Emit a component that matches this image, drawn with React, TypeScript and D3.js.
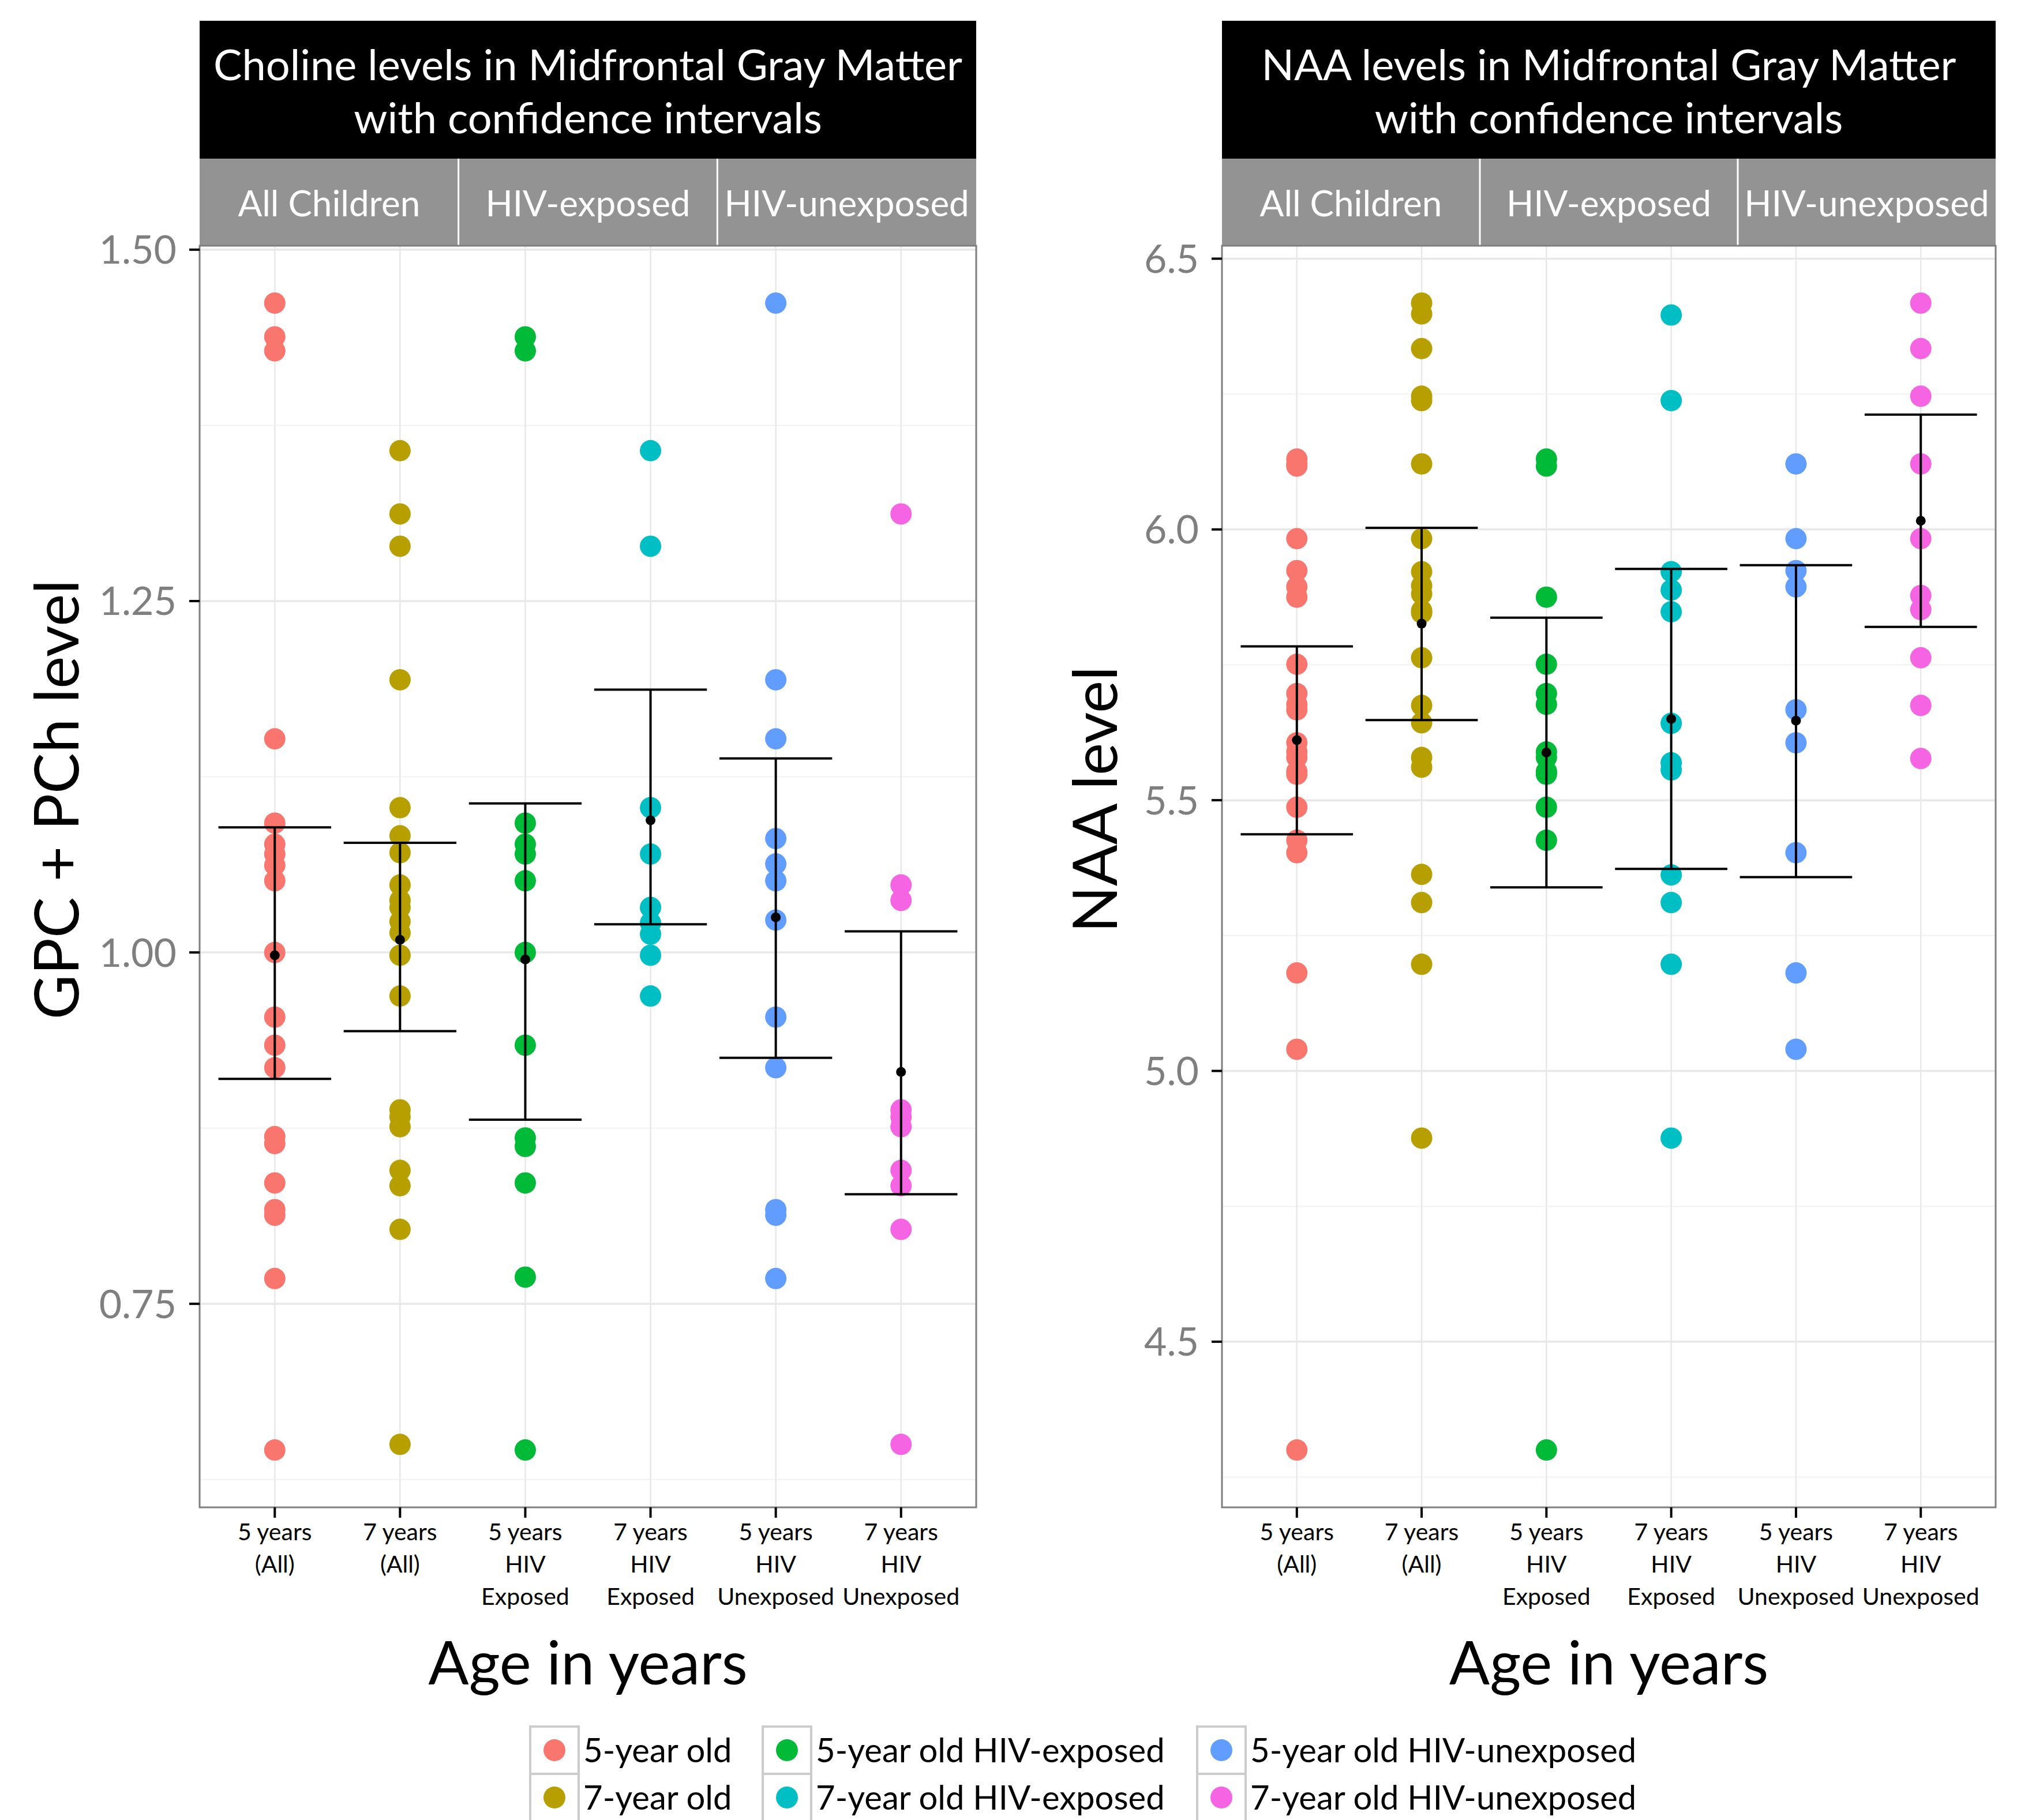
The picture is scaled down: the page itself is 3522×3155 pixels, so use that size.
import React from "react";
import * as d3 from "d3";

// ---------- data ----------
const categories = [
  "5 years\n(All)",
  "7 years\n(All)",
  "5 years\nHIV\nExposed",
  "7 years\nHIV\nExposed",
  "5 years\nHIV\nUnexposed",
  "7 years\nHIV\nUnexposed",
];
const seriesNames = [
  "5-year old",
  "7-year old",
  "5-year old HIV-exposed",
  "7-year old HIV-exposed",
  "5-year old HIV-unexposed",
  "7-year old HIV-unexposed",
];
const seriesColors = ["#F8766D", "#B79F00", "#00BA38", "#00BFC4", "#619CFF", "#F564E3"];
const stripLabels = ["All Children", "HIV-exposed", "HIV-unexposed"];

// Choline (GPC + PCh)
const cholineAge5 = [1.462, 1.438, 1.428, 1.152, 1.092, 1.077, 1.07, 1.062, 1.051, 1.0, 0.954, 0.934, 0.918, 0.869, 0.864, 0.836, 0.817, 0.813, 0.768, 0.646];
const cholineAge7 = [1.357, 1.312, 1.289, 1.194, 1.103, 1.083, 1.071, 1.048, 1.037, 1.032, 1.022, 1.014, 0.998, 0.969, 0.888, 0.883, 0.876, 0.845, 0.834, 0.803, 0.65];
const cholineAge5Exp = [1.438, 1.428, 1.092, 1.077, 1.07, 1.051, 1.0, 0.934, 0.868, 0.862, 0.836, 0.769, 0.646];
const cholineAge7Exp = [1.357, 1.289, 1.103, 1.07, 1.032, 1.021, 1.013, 0.998, 0.969];
const cholineAge5Unexp = [1.462, 1.194, 1.152, 1.081, 1.063, 1.051, 1.023, 0.954, 0.918, 0.817, 0.813, 0.768];
const cholineAge7Unexp = [1.312, 1.048, 1.037, 0.888, 0.883, 0.876, 0.845, 0.834, 0.803, 0.65];
const cholineMean = [0.998, 1.009, 0.995, 1.094, 1.025, 0.915];
const cholineLower = [0.91, 0.944, 0.881, 1.02, 0.925, 0.828];
const cholineUpper = [1.089, 1.078, 1.106, 1.187, 1.138, 1.015];
const cholineTicks = [0.75, 1.0, 1.25, 1.5];

// NAA
const naaAge5 = [6.13, 6.121, 6.117, 5.983, 5.924, 5.894, 5.875, 5.751, 5.697, 5.677, 5.667, 5.606, 5.589, 5.579, 5.553, 5.548, 5.487, 5.426, 5.403, 5.181, 5.04, 4.3];
const naaAge7 = [6.418, 6.398, 6.334, 6.246, 6.238, 6.121, 5.983, 5.922, 5.896, 5.881, 5.85, 5.846, 5.763, 5.675, 5.643, 5.579, 5.561, 5.363, 5.311, 5.197, 4.876];
const naaAge5Exp = [6.13, 6.117, 5.875, 5.751, 5.697, 5.677, 5.589, 5.579, 5.553, 5.548, 5.487, 5.426, 4.3];
const naaAge7Exp = [6.396, 6.238, 5.922, 5.888, 5.848, 5.642, 5.569, 5.556, 5.362, 5.311, 5.197, 4.876];
const naaAge5Unexp = [6.121, 5.983, 5.924, 5.894, 5.667, 5.606, 5.403, 5.181, 5.04];
const naaAge7Unexp = [6.418, 6.334, 6.246, 6.121, 5.983, 5.878, 5.852, 5.763, 5.675, 5.577];
const naaMean = [5.611, 5.826, 5.588, 5.65, 5.647, 6.016];
const naaLower = [5.437, 5.648, 5.339, 5.373, 5.358, 5.82];
const naaUpper = [5.784, 6.003, 5.837, 5.927, 5.934, 6.212];
const naaTicks = [4.5, 5.0, 5.5, 6.0, 6.5];

const FONT = "Lato, 'Open Sans', sans-serif";

type PanelProps = {
  x0: number;
  x1: number;
  titleLines: string[];
  yTitle: string;
  yTitleX: number;
  groups: number[][];
  mean: number[];
  lower: number[];
  upper: number[];
  ticks: number[];
  fmt: (v: number) => string;
};

function Panel(p: PanelProps) {
  const top = 426;
  const bottom = 2613;
  const allVals = ([] as number[]).concat(...p.groups, p.lower, p.upper, p.mean);
  const mn = d3.min(allVals) as number;
  const mx = d3.max(allVals) as number;
  const pad = (mx - mn) * 0.05;
  const y = d3.scaleLinear().domain([mn - pad, mx + pad]).range([bottom, top]);
  const x = d3.scalePoint<string>().domain(categories).range([p.x0, p.x1]).padding(0.6);
  const step = x.step();
  const capHalf = (step * 0.9) / 2;
  const tickStep = p.ticks[1] - p.ticks[0];
  const minor: number[] = [];
  const cand = [p.ticks[0] - tickStep / 2, ...p.ticks.map((t) => t + tickStep / 2)];
  cand.forEach((m) => {
    if (m >= y.domain()[0] && m <= y.domain()[1]) minor.push(m);
  });
  const cx = (p.x0 + p.x1) / 2;
  const stripW = (p.x1 - p.x0) / 3;

  return (
    <g>
      {/* title strip */}
      <rect x={p.x0} y={36} width={p.x1 - p.x0} height={239} fill="#000" />
      {p.titleLines.map((t, i) => (
        <text key={i} x={cx} y={139 + i * 92} fill="#fff" fontSize={74} textAnchor="middle" fontFamily={FONT}>
          {t}
        </text>
      ))}
      {/* group strips */}
      {stripLabels.map((s, i) => (
        <g key={s}>
          <rect x={p.x0 + i * stripW} y={275} width={stripW} height={top - 275} fill="#939393" />
          <text x={p.x0 + (i + 0.5) * stripW} y={375} fill="#fff" fontSize={62} textAnchor="middle" fontFamily={FONT}>
            {s}
          </text>
        </g>
      ))}
      {[1, 2].map((i) => (
        <line key={i} x1={p.x0 + i * stripW} x2={p.x0 + i * stripW} y1={275} y2={top} stroke="#fff" strokeWidth={3} />
      ))}
      {/* panel background */}
      <rect x={p.x0} y={top} width={p.x1 - p.x0} height={bottom - top} fill="#fff" />
      {minor.map((m) => (
        <line key={"mi" + m} x1={p.x0} x2={p.x1} y1={y(m)} y2={y(m)} stroke="#f4f4f4" strokeWidth={2.5} />
      ))}
      {p.ticks.map((t) => (
        <line key={"ma" + t} x1={p.x0} x2={p.x1} y1={y(t)} y2={y(t)} stroke="#e8e8e8" strokeWidth={3.5} />
      ))}
      {categories.map((c) => (
        <line key={"vx" + c} x1={x(c)} x2={x(c)} y1={top} y2={bottom} stroke="#e8e8e8" strokeWidth={2.5} />
      ))}
      {/* points */}
      {p.groups.map((g, gi) =>
        g.map((v, vi) => (
          <circle key={gi + "-" + vi} cx={x(categories[gi])} cy={y(v)} r={18.5} fill={seriesColors[gi]} />
        ))
      )}
      {/* error bars */}
      {categories.map((c, i) => (
        <g key={"eb" + i} stroke="#000" strokeWidth={4}>
          <line x1={x(c)} x2={x(c)} y1={y(p.lower[i])} y2={y(p.upper[i])} />
          <line x1={(x(c) as number) - capHalf} x2={(x(c) as number) + capHalf} y1={y(p.lower[i])} y2={y(p.lower[i])} />
          <line x1={(x(c) as number) - capHalf} x2={(x(c) as number) + capHalf} y1={y(p.upper[i])} y2={y(p.upper[i])} />
        </g>
      ))}
      {categories.map((c, i) => (
        <circle key={"m" + i} cx={x(c)} cy={y(p.mean[i])} r={8.5} fill="#000" />
      ))}
      {/* border */}
      <rect x={p.x0} y={top} width={p.x1 - p.x0} height={bottom - top} fill="none" stroke="#7f7f7f" strokeWidth={3} />
      {/* y axis */}
      {p.ticks.map((t) => (
        <g key={"yt" + t}>
          <line x1={p.x0 - 18} x2={p.x0} y1={y(t)} y2={y(t)} stroke="#000" strokeWidth={4} />
          <text
            x={p.x0 - 40}
            y={y(t)}
            dy="0.36em"
            fill="#7f7f7f"
            fontSize={68}
            textAnchor="end"
            fontFamily={FONT}
          >
            {p.fmt(t)}
          </text>
        </g>
      ))}
      {/* x axis */}
      {categories.map((c) => (
        <g key={"xt" + c}>
          <line x1={x(c)} x2={x(c)} y1={bottom} y2={bottom + 18} stroke="#000" strokeWidth={4} />
          <text x={x(c)} y={2670} fill="#000" fontSize={41} textAnchor="middle" fontFamily={FONT}>
            {c.split("\n").map((l, li) => (
              <tspan key={li} x={x(c)} y={2670 + li * 56}>
                {l}
              </tspan>
            ))}
          </text>
        </g>
      ))}
      <text x={cx} y={2920} fontSize={104} textAnchor="middle" fontFamily={FONT} fill="#000">
        Age in years
      </text>
      <text
        transform={`translate(${p.yTitleX},1386) rotate(-90)`}
        fontSize={106}
        textAnchor="middle"
        fontFamily={FONT}
        fill="#000"
      >
        {p.yTitle}
      </text>
    </g>
  );
}

const legendColX = [919, 1322, 2075];
const legendRowY = [2993, 3075];

function Legend() {
  return (
    <g>
      {seriesNames.map((name, i) => {
        const col = Math.floor(i / 2);
        const row = i % 2;
        const kx = legendColX[col];
        const ky = legendRowY[row];
        return (
          <g key={name}>
            <rect x={kx} y={ky} width={84} height={82} fill="#fff" stroke="#cccccc" strokeWidth={4} />
            <circle cx={kx + 42} cy={ky + 41} r={19} fill={seriesColors[i]} />
            <text x={kx + 92} y={ky + 62} fontSize={58} fontFamily={FONT} fill="#000">
              {name}
            </text>
          </g>
        );
      })}
    </g>
  );
}

export default function App() {
  const fmt2 = d3.format(".2f");
  const fmt1 = d3.format(".1f");
  return (
    <svg
      width={3522}
      height={3155}
      viewBox="0 0 3522 3155"
      style={{ position: "absolute", left: 0, top: 0, display: "block", background: "#fff" }}
    >
      <rect x={0} y={0} width={3522} height={3155} fill="#fff" />
      <Panel
        x0={346}
        x1={1692}
        titleLines={["Choline levels in Midfrontal Gray Matter", "with confidence intervals"]}
        yTitle="GPC + PCh level"
        yTitleX={136}
        groups={[cholineAge5, cholineAge7, cholineAge5Exp, cholineAge7Exp, cholineAge5Unexp, cholineAge7Unexp]}
        mean={cholineMean}
        lower={cholineLower}
        upper={cholineUpper}
        ticks={cholineTicks}
        fmt={fmt2}
      />
      <Panel
        x0={2118}
        x1={3459}
        titleLines={["NAA levels in Midfrontal Gray Matter", "with confidence intervals"]}
        yTitle="NAA level"
        yTitleX={1936}
        groups={[naaAge5, naaAge7, naaAge5Exp, naaAge7Exp, naaAge5Unexp, naaAge7Unexp]}
        mean={naaMean}
        lower={naaLower}
        upper={naaUpper}
        ticks={naaTicks}
        fmt={fmt1}
      />
      <Legend />
    </svg>
  );
}
